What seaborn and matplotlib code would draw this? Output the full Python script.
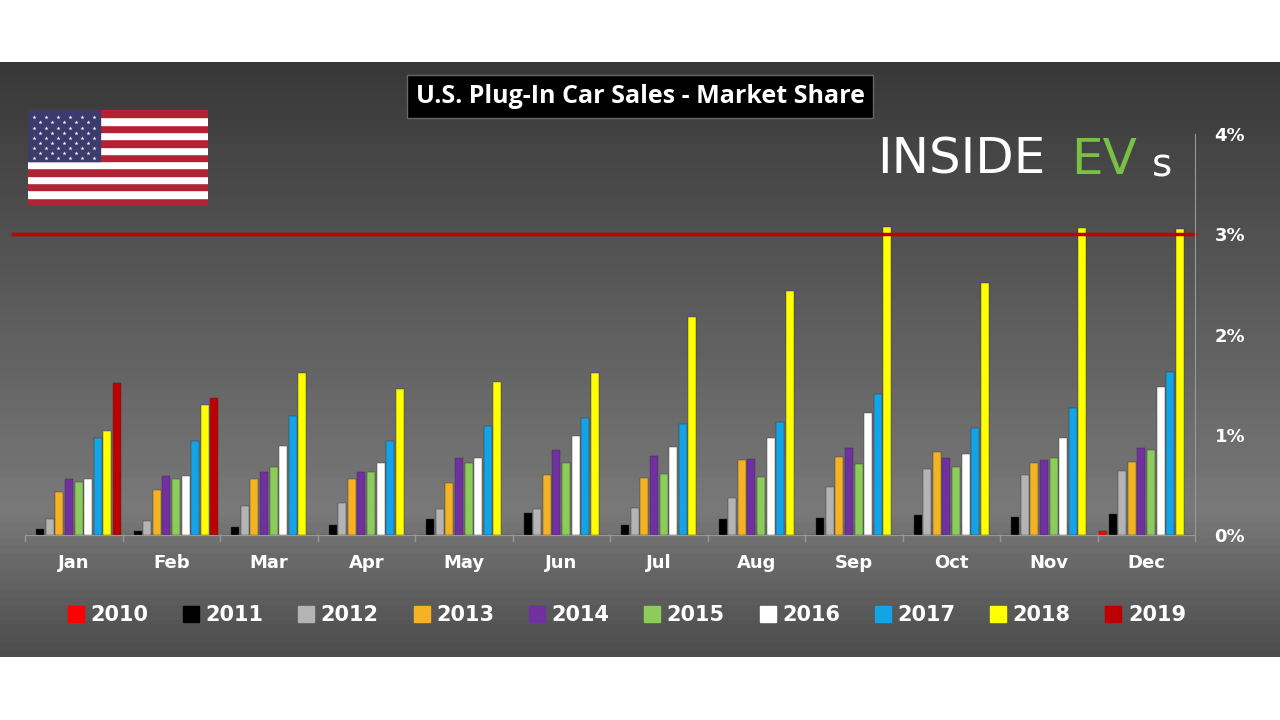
import numpy as np
import pandas as pd
import seaborn as sns
import matplotlib.pyplot as plt
from matplotlib.patches import Rectangle
from matplotlib.lines import Line2D

months = ['Jan', 'Feb', 'Mar', 'Apr', 'May', 'Jun', 'Jul', 'Aug', 'Sep', 'Oct', 'Nov', 'Dec']
years = ['2010', '2011', '2012', '2013', '2014', '2015', '2016', '2017', '2018', '2019']
colors = ['#ff0000', '#000000', '#b4b4b4', '#f5b324', '#7030a0', '#8ccc5a', '#ffffff', '#12a4e6', '#ffff00', '#c00000']

# market share in %, one list per year (Jan..Dec)
s2010 = [0, 0, 0, 0, 0, 0, 0, 0, 0, 0, 0, 0.04]
s2011 = [0.06, 0.04, 0.08, 0.10, 0.16, 0.22, 0.10, 0.16, 0.17, 0.20, 0.18, 0.21]
s2012 = [0.16, 0.14, 0.29, 0.32, 0.26, 0.26, 0.27, 0.37, 0.48, 0.66, 0.60, 0.64]
s2013 = [0.43, 0.45, 0.56, 0.56, 0.52, 0.60, 0.57, 0.75, 0.78, 0.83, 0.72, 0.73]
s2014 = [0.56, 0.59, 0.63, 0.63, 0.77, 0.85, 0.79, 0.76, 0.87, 0.77, 0.75, 0.87]
s2015 = [0.53, 0.56, 0.68, 0.63, 0.72, 0.72, 0.61, 0.58, 0.71, 0.68, 0.77, 0.85]
s2016 = [0.56, 0.59, 0.89, 0.72, 0.77, 0.99, 0.88, 0.97, 1.22, 0.81, 0.97, 1.48]
s2017 = [0.97, 0.94, 1.19, 0.94, 1.09, 1.17, 1.11, 1.13, 1.41, 1.07, 1.27, 1.63]
s2018 = [1.04, 1.30, 1.62, 1.46, 1.53, 1.62, 2.17, 2.43, 3.07, 2.51, 3.06, 3.05]
s2019 = [1.52, 1.37, 0, 0, 0, 0, 0, 0, 0, 0, 0, 0]
series = [s2010, s2011, s2012, s2013, s2014, s2015, s2016, s2017, s2018, s2019]

rows = []
for y, vals in zip(years, series):
    for m, v in zip(months, vals):
        rows.append({'Month': m, 'Year': y, 'Share': v})
df = pd.DataFrame(rows)

fig = plt.figure(figsize=(12.8, 7.2), dpi=100)
fig.patch.set_facecolor('white')

# dark gradient panel
bg = fig.add_axes([0, 63 / 720, 1, 595 / 720])
grad = np.concatenate([np.linspace(0.22, 0.47, 60), np.linspace(0.47, 0.30, 20)])
bg.imshow(grad[:, None], aspect='auto', cmap='gray', vmin=0, vmax=1, extent=[0, 1, 0, 1])
bg.set_axis_off()

ax = fig.add_axes([25 / 1280, (720 - 535) / 720, 1170 / 1280, 401 / 720])
ax.set_facecolor('none')
sns.barplot(data=df, x='Month', y='Share', hue='Year', hue_order=years,
            order=months, palette=colors, width=0.98, ax=ax, legend=False,
            saturation=1, edgecolor='#333333', linewidth=0.3)
for p in ax.patches:
    w = p.get_width()
    p.set_x(p.get_x() + w * 0.08)
    p.set_width(w * 0.84)
ax.set_ylim(0, 4)
ax.set_xlim(-0.5, 11.5)
ax.axhline(3, color='#c00000', lw=2.5, xmin=-0.01, clip_on=False)
ax.yaxis.tick_right()
ax.set_yticks([0, 1, 2, 3, 4])
ax.set_yticklabels(['0%', '1%', '2%', '3%', '4%'], color='white', fontsize=13, fontweight='bold')
ax.tick_params(axis='y', length=0, pad=14)
ax.tick_params(axis='x', colors='white', labelsize=13, length=0, pad=14)
for t in ax.get_xticklabels():
    t.set_fontweight('bold')
ax.set_xlabel('')
ax.set_ylabel('')
for s in ['top', 'left']:
    ax.spines[s].set_visible(False)
ax.spines['bottom'].set_color('#999999')
ax.spines['right'].set_color('#999999')
for i in range(13):
    ax.plot([i - 0.5, i - 0.5], [0, -0.06], color='#999999', lw=1, clip_on=False)

# title box
fig.text(0.5, 0.866, 'U.S. Plug-In Car Sales - Market Share', ha='center', va='center',
         color='white', fontsize=18, fontweight='bold', family='Open Sans',
         bbox=dict(boxstyle='square,pad=0.35', fc='black', ec='#666666', lw=1))

# logo
fig.text(0.685, 0.778, 'INSIDE', color='white', fontsize=36, ha='left', va='center', family='DejaVu Sans')
fig.text(0.837, 0.778, 'EV', color='#7ac143', fontsize=36, ha='left', va='center', family='DejaVu Sans')
fig.text(0.9, 0.770, 's', color='white', fontsize=28, ha='left', va='center', family='DejaVu Sans')

# flag
fl = fig.add_axes([28 / 1280, (720 - 205) / 720, 180 / 1280, 95 / 720])
for k in range(13):
    fl.add_patch(Rectangle((0, k), 19, 1, color='#b22234' if k % 2 == 0 else 'white'))
fl.add_patch(Rectangle((0, 6), 7.6, 7, color='#3c3b6e'))
for r in range(9):
    n = 6 if r % 2 == 0 else 5
    off = 0.63 if r % 2 == 0 else 1.26
    for c in range(n):
        fl.plot(off + c * 1.26, 6.4 + r * 0.7, marker='*', color='white', ms=3, mew=0)
fl.set_xlim(0, 19)
fl.set_ylim(0, 13)
fl.set_axis_off()

# legend
handles = [Line2D([], [], marker='s', ls='', color=c, ms=11) for c in colors]
fig.legend(handles, years, loc='center', bbox_to_anchor=(0.488, 0.146), ncol=10, frameon=False,
           labelcolor='white', prop={'size': 15, 'weight': 'bold'}, handletextpad=0.1,
           columnspacing=1.45, handlelength=1.2)

fig.savefig('out.png', dpi=100, facecolor=fig.get_facecolor())
